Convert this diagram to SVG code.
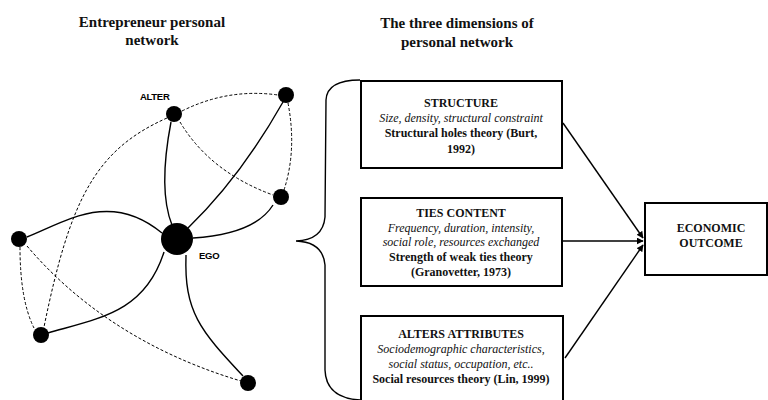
<svg xmlns="http://www.w3.org/2000/svg" width="768" height="400" viewBox="0 0 768 400">
<style>
.h{font-family:"Liberation Serif","Times New Roman",serif;font-weight:bold;font-size:15px;text-anchor:middle;fill:#111}
.t{font-family:"Liberation Serif","Times New Roman",serif;font-size:12px;text-anchor:middle;fill:#111}
.b{font-weight:bold}
.i{font-style:italic}
.lbl{font-family:"Liberation Sans",Arial,sans-serif;font-weight:bold;font-size:9.5px;fill:#000;letter-spacing:-0.3px}
.box{fill:#fff;stroke:#000;stroke-width:2}
.solid{fill:none;stroke:#000;stroke-width:1.4}
.dash{fill:none;stroke:#000;stroke-width:1;stroke-dasharray:3 2}
.conn{fill:none;stroke:#000;stroke-width:1.4}
.node{fill:#000}
</style>
<defs>
<marker id="ah" viewBox="0 0 10 10" refX="9" refY="5" markerWidth="7" markerHeight="7" orient="auto" markerUnits="userSpaceOnUse">
<path d="M0,0 L10,5 L0,10 Z" fill="#000"/>
</marker>
</defs>

<text class="h" x="152" y="27">Entrepreneur personal</text>
<text class="h" x="152" y="45">network</text>
<text class="h" x="457" y="28">The three dimensions of</text>
<text class="h" x="457" y="47">personal network</text>

<g id="network-edges">
<path class="solid" d="M171 122 Q158 190 172 225"/>
<path class="solid" d="M283 102 Q240 178 188 228"/>
<path class="solid" d="M273 205 Q255 234 193 238"/>
<path class="solid" d="M27 237 C 65 222, 110 190, 162 233"/>
<path class="solid" d="M48 333 C 100 318, 145 312, 164 252"/>
<path class="solid" d="M186 255 C 184 312, 200 330, 243 376"/>
<path class="dash" d="M182 111 Q228 88 278 95"/>
<path class="dash" d="M180 122 Q210 172 273 195"/>
<path class="dash" d="M288 103 Q297 150 284 190"/>
<path class="dash" d="M167 118 C 95 150, 70 200, 44 327"/>
<path class="dash" d="M20 247 Q20 300 34 328"/>
<path class="dash" d="M27 246 C 90 320, 170 360, 241 381"/>
</g>

<g id="ego"><circle class="node" cx="177" cy="239" r="16"/><text class="lbl" x="199" y="259">EGO</text></g>
<g id="alter"><circle class="node" cx="174" cy="114" r="8"/><text class="lbl" x="140" y="100">ALTER</text></g>
<g id="n-topright"><circle class="node" cx="286" cy="95" r="8"/></g>
<g id="n-right"><circle class="node" cx="281" cy="197" r="8"/></g>
<g id="n-left"><circle class="node" cx="19" cy="239" r="8"/></g>
<g id="n-bottomleft"><circle class="node" cx="41" cy="335" r="8"/></g>
<g id="n-bottom"><circle class="node" cx="248" cy="383" r="8"/></g>

<g id="brace">
<path class="solid" d="M360 80 Q327 80 326 100 L325 217 Q323 240 296 241 Q323 242 325 265 L325 370 Q326 398 360 400"/>
</g>

<g id="structure">
<rect class="box" x="361" y="81" width="201" height="87"/>
<text class="t b" x="461" y="107">STRUCTURE</text>
<text class="t i" x="461" y="122">Size, density, structural constraint</text>
<text class="t b" x="461" y="137">Structural holes theory (Burt,</text>
<text class="t b" x="461" y="153">1992)</text>
</g>

<g id="ties-content">
<rect class="box" x="361" y="198" width="201" height="88"/>
<text class="t b" x="461" y="217">TIES CONTENT</text>
<text class="t i" x="461" y="232">Frequency, duration, intensity,</text>
<text class="t i" x="461" y="246">social role, resources exchanged</text>
<text class="t b" x="461" y="261">Strength of weak ties theory</text>
<text class="t b" x="461" y="276">(Granovetter, 1973)</text>
</g>

<g id="alters-attributes">
<rect class="box" x="361" y="316" width="202" height="90"/>
<text class="t b" x="461" y="338">ALTERS ATTRIBUTES</text>
<text class="t i" x="461" y="353">Sociodemographic characteristics,</text>
<text class="t i" x="461" y="368">social status, occupation, etc..</text>
<text class="t b" x="461" y="383">Social resources theory (Lin, 1999)</text>
</g>

<g id="economic-outcome">
<rect class="box" x="645" y="203" width="122" height="72"/>
<text class="t b" x="711" y="232">ECONOMIC</text>
<text class="t b" x="711" y="247">OUTCOME</text>
</g>

<g id="connectors">
<line class="conn" x1="563" y1="123" x2="643" y2="238" marker-end="url(#ah)"/>
<line class="conn" x1="563" y1="241" x2="643" y2="241" marker-end="url(#ah)"/>
<line class="conn" x1="565" y1="358" x2="643" y2="245" marker-end="url(#ah)"/>
</g>
</svg>
